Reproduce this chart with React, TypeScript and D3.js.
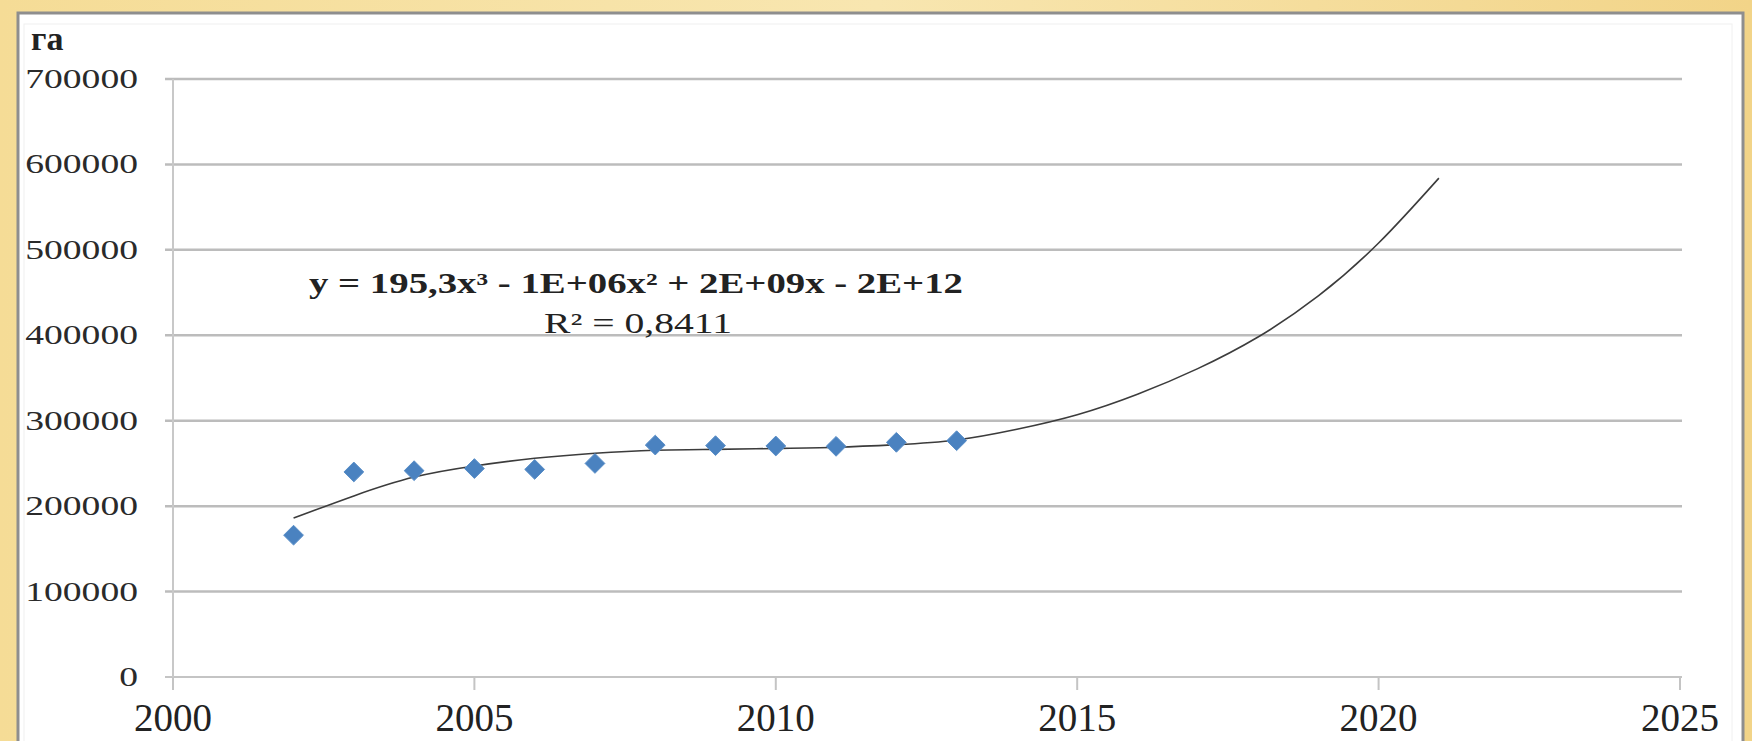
import React from "react";
import * as d3 from "d3";

const years = [2002, 2003, 2004, 2005, 2006, 2007, 2008, 2009, 2010, 2011, 2012, 2013];
const areaValues = [166000, 240000, 241500, 244000, 243000, 250000, 271500, 270800, 270400, 270000, 274700, 276600];

const trendYears = [2002, 2003, 2004, 2005, 2006, 2007, 2008, 2009, 2010, 2011, 2012, 2013, 2014, 2015, 2016, 2017, 2018, 2019, 2020, 2021];
const trendValues = [186000, 212000, 234000, 247000, 256000, 262000, 265500, 266500, 267500, 268900, 272000, 277500, 290000, 307000, 331000, 361000, 398000, 446000, 508000, 584000];

const xTicks = [2000, 2005, 2010, 2015, 2020, 2025];
const yTicks = [0, 100000, 200000, 300000, 400000, 500000, 600000, 700000];
const yTickLabels = ["0", "100000", "200000", "300000", "400000", "500000", "600000", "700000"];

const unitLabel = "га";
const equationText = "y = 195,3x\u00B3  - 1E+06x\u00B2  + 2E+09x  - 2E+12";
const r2Text = "R\u00B2 = 0,8411";

export default function App() {
  const W = 1752;
  const H = 741;
  const x = d3.scaleLinear().domain([2000, 2025]).range([173, 1680]);
  const y = d3.scaleLinear().domain([0, 700000]).range([677, 79]);

  const line = d3
    .line<number>()
    .x((_, i) => x(trendYears[i]))
    .y((d) => y(d))
    .curve(d3.curveNatural);

  const diamond = d3.symbol().type(d3.symbolDiamond2).size(250)();

  const font = "'Liberation Serif', 'Times New Roman', serif";

  return (
    <svg
      width={W}
      height={H}
      viewBox={`0 0 ${W} ${H}`}
      style={{ position: "absolute", left: 0, top: 0, fontFamily: font }}
    >
      <defs>
        <linearGradient id="gold" x1="0" y1="0" x2="1" y2="0">
          <stop offset="0" stopColor="#f5dc96" />
          <stop offset="0.5" stopColor="#f8e6b0" />
          <stop offset="1" stopColor="#f2d488" />
        </linearGradient>
      </defs>
      <rect x={0} y={0} width={W} height={H} fill="url(#gold)" />
      <rect x={18} y={13} width={1725} height={740} fill="#ffffff" stroke="#8e8e8e" strokeWidth={3} />
      <rect x={24} y={24} width={1708} height={730} fill="none" stroke="#f0f0f0" strokeWidth={1} />

      {/* gridlines */}
      {yTicks.map((t) => (
        <line
          key={"g" + t}
          x1={165}
          x2={1682}
          y1={y(t)}
          y2={y(t)}
          stroke={t === 0 ? "#c4c4c4" : "#bcbcbc"}
          strokeWidth={t === 0 ? 2 : 2.5}
        />
      ))}
      {/* y axis */}
      <line x1={x(2000)} x2={x(2000)} y1={y(700000)} y2={690} stroke="#c8c8c8" strokeWidth={2} />
      {/* x ticks */}
      {xTicks.map((t) => (
        <line key={"xt" + t} x1={x(t)} x2={x(t)} y1={y(0)} y2={690} stroke="#c4c4c4" strokeWidth={2} />
      ))}

      {/* y labels */}
      {yTicks.map((t, i) => {
        const s = yTickLabels[i];
        return (
          <text
            key={"yl" + t}
            x={138}
            y={y(t) + 9}
            textAnchor="end"
            fontSize={27}
            fill="#2a2a2a"
            textLength={s.length * 18.8}
            lengthAdjust="spacingAndGlyphs"
          >
            {s}
          </text>
        );
      })}

      {/* x labels */}
      {xTicks.map((t) => (
        <text key={"xl" + t} x={x(t)} y={731} textAnchor="middle" fontSize={39} fill="#222">
          {t}
        </text>
      ))}

      {/* unit label */}
      <text x={31} y={50} fontSize={34} fontWeight="bold" fill="#222">
        {unitLabel}
      </text>

      {/* trendline */}
      <path d={line(trendValues) || ""} fill="none" stroke="#3c3c3c" strokeWidth={1.6} />

      {/* points */}
      {years.map((yr, i) => (
        <path
          key={"p" + yr}
          d={diamond || ""}
          transform={`translate(${x(yr)},${y(areaValues[i])})`}
          fill="#4a82c0"
          stroke="#5a8fc8"
          strokeWidth={1}
        />
      ))}

      {/* equation */}
      <text
        x={309}
        y={293}
        fontSize={29}
        fontWeight="bold"
        fill="#222"
        textLength={654}
        lengthAdjust="spacingAndGlyphs"
      >
        {equationText}
      </text>
      <text x={544} y={333} fontSize={29} fill="#222" textLength={188} lengthAdjust="spacingAndGlyphs">
        {r2Text}
      </text>
    </svg>
  );
}
